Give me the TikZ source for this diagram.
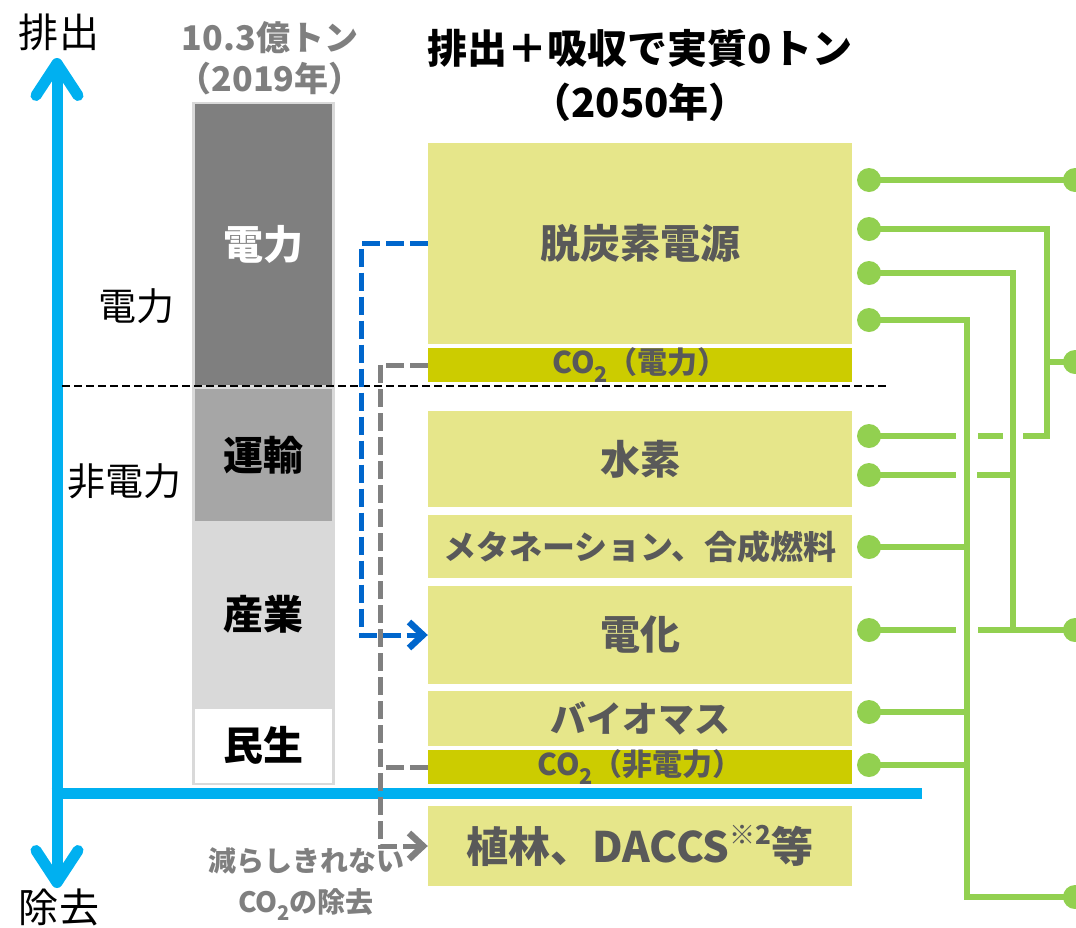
\documentclass[tikz,border=0pt]{standalone}
\usepackage{fontspec}
\setmainfont{Noto Sans CJK JP}
\usetikzlibrary{arrows.meta}
\definecolor{axisblue}{HTML}{00B0F0}
\definecolor{boxfill}{HTML}{E6E68A}
\definecolor{co2fill}{HTML}{CCCC00}
\definecolor{txtgray}{HTML}{595959}
\definecolor{hgray}{HTML}{7F7F7F}
\definecolor{glinec}{HTML}{92D050}
\definecolor{bdashc}{HTML}{0066CC}
\definecolor{gdashc}{HTML}{808080}
\definecolor{barA}{HTML}{7F7F7F}
\definecolor{barB}{HTML}{A6A6A6}
\definecolor{barC}{HTML}{D9D9D9}
\newcommand\fsz[2]{\fontsize{#1}{#2}\selectfont}
\newcommand\subtwo{\raisebox{-0.3em}{\scalebox{0.72}{2}}}
\newcommand\supnote{\raisebox{0.42em}{\scalebox{0.62}{※2}}}
\begin{document}
\begin{tikzpicture}[x=1pt,y=-1pt,
  boxnode/.style={rectangle, fill=boxfill, minimum width=424pt, inner sep=0pt, text=txtgray, font=\bfseries\fsz{40}{46}},
  co2node/.style={rectangle, fill=co2fill, minimum width=424pt, minimum height=30pt, inner sep=0pt, text=txtgray, font=\bfseries\fsz{30}{34}},
  barseg/.style={rectangle, minimum width=137pt, inner sep=0pt, font=\bfseries\fsz{40}{46}},
  gline/.style={draw=glinec, line width=6pt},
  gdot/.style={fill=glinec},
  bdash/.style={draw=bdashc, line width=5pt, dash pattern=on 18pt off 6pt},
  gdash/.style={draw=gdashc, line width=5pt, dash pattern=on 18pt off 6pt},
  axisline/.style={draw=axisblue, line width=11pt},
  plain/.style={inner sep=0pt, text=black, font=\fsz{38}{44}},
  smalltip/.style={-{Straight Barb[length=14pt,width=26pt,line width=6.5pt]}}
]
\useasboundingbox (0,0) rectangle (1076,927);
\clip (0,0) rectangle (1076,927);

% ---- axis
\coordinate (atop) at (57,58);
\coordinate (abot) at (57,888);
\coordinate (hleft) at (51.5,793);
\coordinate (hright) at (922,793);
\draw[axisline, {Straight Barb[length=32pt,width=42pt,round]}-{Straight Barb[length=32pt,width=42pt,round]}] (atop) -- (abot);
\draw[axisline] (hleft) -- (hright);

\node[plain, font=\fsz{40}{46}] (lout) at (59,32) {排出};
\node[plain, font=\fsz{40}{46}] (lrem) at (59,907) {除去};
\node[plain] (lpow) at (136,306) {電力};
\node[plain] (lnon) at (124,481) {非電力};

% ---- 2019 bar
\node[inner sep=0pt, text=hgray, align=center, font=\bfseries\fsz{34}{41}] (head19) at (270,58) {10.3億トン\\（2019年）};
\fill[barC] (192,102) rectangle (335,785);
\node[barseg, fill=barA, minimum height=281pt, text=white] (sA) at (263.5,244.5) {電力};
\node[barseg, fill=barB, minimum height=132pt, text=black] (sB) at (263.5,455) {運輸};
\node[barseg, fill=barC, minimum height=186pt, text=black] (sC) at (263.5,614) {産業};
\node[barseg, fill=white, minimum height=74pt, text=black] (sD) at (263.5,745.5) {民生};

% ---- title
\node[inner sep=0pt, text=black, align=center, font=\bfseries\fsz{40}{54}] (title) at (640,75) {排出＋吸収で実質0トン\\（2050年）};

% ---- 2050 boxes
\node[boxnode, minimum height=201pt] (dec) at (640,243.5) {脱炭素電源};
\node[co2node] (co2a) at (640,365) {CO\subtwo（電力）};
\node[boxnode, minimum height=96pt] (h2) at (640,459) {水素};
\node[boxnode, minimum height=63pt, font=\bfseries\fsz{33}{38}] (meth) at (640,546.5) {メタネーション、合成燃料};
\node[boxnode, minimum height=98pt] (elec) at (640,635) {電化};
\node[boxnode, minimum height=55pt, font=\bfseries\fsz{36}{40}] (bio) at (640,718.5) {バイオマス};
\node[co2node] (co2b) at (640,767) {CO\subtwo（非電力）};
\node[boxnode, minimum height=80pt, font=\bfseries\fsz{42}{46}] (plant) at (640,846) {植林、DACCS\supnote 等};

\node[inner sep=0pt, text=hgray, align=center, font=\bfseries\fsz{28}{41}] (rem) at (306,884) {減らしきれない\\CO\subtwo の除去};

% ---- black dashed separator
\coordinate (sepL) at (62,386);
\coordinate (sepR) at (888,386);
\draw[black, line width=1.2pt, dash pattern=on 8pt off 4pt] (sepL) -- (sepR);

% ---- blue and gray dashed routes
\coordinate (b1) at (361,243.5);
\coordinate (b2) at (361,635);
\draw[bdash, smalltip] (dec.west) -- (b1) -- (b2) -- (elec.west);
\coordinate (g1) at (380,365);
\coordinate (g2) at (380,846);
\coordinate (g3) at (380,767);
\draw[gdash, smalltip] (co2a.west) -- (g1) -- (g2) -- (plant.west);
\draw[gdash] (co2b.west) -- (g3);

% ---- green connectors
\coordinate (L1) at (869,180);
\coordinate (L2) at (869,229);
\coordinate (L3) at (869,273);
\coordinate (L4) at (869,320);
\coordinate (L5) at (869,436);
\coordinate (L6) at (869,475);
\coordinate (L7) at (869,547);
\coordinate (L8) at (869,630);
\coordinate (L9) at (869,712);
\coordinate (L10) at (869,765);
\coordinate (R1) at (1075,180);
\coordinate (R2) at (1075,362);
\coordinate (R3) at (1075,630);
\coordinate (R4) at (1075,897);
\coordinate (A1) at (1047,229);
\coordinate (A2) at (1047,436);
\coordinate (A3) at (1047,362);
\coordinate (B1) at (1013,273);
\coordinate (B2) at (1013,630);
\coordinate (B3) at (1013,475);
\coordinate (C1) at (967,320);
\coordinate (C2) at (967,897);
\coordinate (C3) at (967,547);
\coordinate (C4) at (967,712);
\coordinate (C5) at (967,765);
\coordinate (k1) at (1023,436);
\coordinate (k2) at (1003,436);
\coordinate (k3) at (978,436);
\coordinate (k4) at (956,436);
\coordinate (m1) at (956,475);
\coordinate (m2) at (977,475);
\coordinate (n1) at (956,630);
\coordinate (n2) at (978,630);

\draw[gline] (L1) -- (R1);
\draw[gline] (L2) -- (A1) -- (A2) -- (k1);
\draw[gline] (k2) -- (k3);
\draw[gline] (k4) -- (L5);
\draw[gline] (A3) -- (R2);
\draw[gline] (L3) -- (B1) -- (B2);
\draw[gline] (L6) -- (m1);
\draw[gline] (m2) -- (B3);
\draw[gline] (L8) -- (n1);
\draw[gline] (n2) -- (R3);
\draw[gline] (L4) -- (C1) -- (C2) -- (R4);
\draw[gline] (L7) -- (C3);
\draw[gline] (L9) -- (C4);
\draw[gline] (L10) -- (C5);
\foreach \p in {L1,L2,L3,L4,L5,L6,L7,L8,L9,L10,R1,R2,R3,R4}
  \fill[gdot] (\p) circle[radius=12pt];
\end{tikzpicture}
\end{document}
